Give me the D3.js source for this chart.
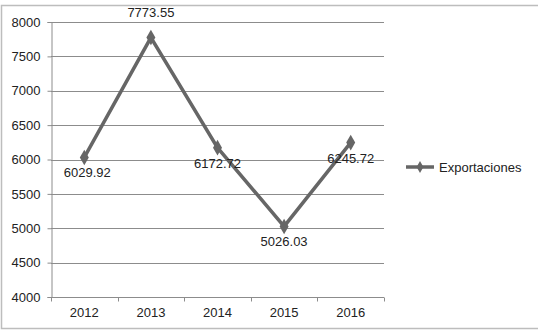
<!DOCTYPE html>
<html>
<head>
<meta charset="utf-8">
<script src="https://cdn.jsdelivr.net/npm/d3@7"></script>
<style>
  body { margin: 0; background: #fff; }
  text { font-family: "Liberation Sans", Arial, sans-serif; fill: #222; }
</style>
</head>
<body>
<svg id="canvas" width="538" height="332"></svg>
<script>
let years = ['2012', '2013', '2014', '2015', '2016']
let exportaciones = [6029.92, 7773.55, 6172.72, 5026.03, 6245.72]
let yTicks = [4000, 4500, 5000, 5500, 6000, 6500, 7000, 7500, 8000]
let seriesName = 'Exportaciones'
// label above (-1) or below (1) the point
let labelSide = [1, -1, 1, 1, 1]

let svg = d3.select('#canvas')

// outer frame
svg.append('rect')
  .attr('x', 1.5).attr('y', 5.5)
  .attr('width', 540).attr('height', 323)
  .attr('fill', 'none').attr('stroke', '#bdbdbd').attr('stroke-width', 1.5)

let plotLeft = 51, plotRight = 384, plotTop = 22, plotBottom = 297

let x = d3.scaleBand().domain(years).range([plotLeft, plotRight])
let y = d3.scaleLinear().domain([4000, 8000]).range([plotBottom, plotTop])

// gridlines
svg.append('g')
  .selectAll('line')
  .data(yTicks)
  .enter()
  .append('line')
  .attr('x1', plotLeft).attr('x2', plotRight)
  .attr('y1', d => Math.round(y(d)) + 0.5).attr('y2', d => Math.round(y(d)) + 0.5)
  .attr('stroke', '#8c8c8c').attr('stroke-width', 1)

// y axis
let yAxis = svg.append('g')
  .attr('transform', 'translate(' + (plotLeft + 0.5) + ',0)')
  .call(d3.axisLeft(y).tickValues(yTicks).tickFormat(d3.format('d')).tickSize(4).tickPadding(7))
yAxis.select('.domain').attr('stroke', '#8c8c8c')
yAxis.selectAll('.tick line').attr('stroke', '#8c8c8c')
yAxis.selectAll('text').style('font-size', '13px').attr('fill', '#222')

// x axis: ticks at band boundaries
let xAxis = svg.append('g')
  .attr('transform', 'translate(0,' + (plotBottom + 0.5) + ')')
  .call(d3.axisBottom(x).tickSize(0).tickPadding(10))
xAxis.select('.domain').attr('stroke', '#8c8c8c').attr('d', 'M' + plotLeft + ',0H' + plotRight)
xAxis.selectAll('text').style('font-size', '13px').attr('fill', '#222')
xAxis.selectAll('.bound')
  .data(d3.range(years.length + 1))
  .enter()
  .append('line')
  .attr('class', 'bound')
  .attr('x1', i => Math.round(plotLeft + i * x.bandwidth()) + 0.5)
  .attr('x2', i => Math.round(plotLeft + i * x.bandwidth()) + 0.5)
  .attr('y1', 0).attr('y2', 4)
  .attr('stroke', '#8c8c8c')

let cx = (d, i) => x(years[i]) + x.bandwidth() / 2

// line
let line = d3.line()
  .x((d, i) => cx(d, i))
  .y(d => y(d))

svg.append('path')
  .datum(exportaciones)
  .attr('d', line)
  .attr('fill', 'none')
  .attr('stroke', '#666')
  .attr('stroke-width', 3.5)
  .attr('stroke-linejoin', 'miter')

let diamond = d3.symbol().type(d3.symbolDiamond).size(70)

svg.append('g')
  .selectAll('path')
  .data(exportaciones)
  .enter()
  .append('path')
  .attr('d', diamond)
  .attr('transform', (d, i) => 'translate(' + cx(d, i) + ',' + y(d) + ')')
  .attr('fill', '#666')

// data labels
svg.append('g')
  .selectAll('text')
  .data(exportaciones)
  .enter()
  .append('text')
  .attr('x', (d, i) => cx(d, i) + (i === 0 ? 3 : 0))
  .attr('y', (d, i) => y(d) + (labelSide[i] > 0 ? 20 : -21))
  .attr('text-anchor', 'middle')
  .style('font-size', '13px')
  .text(d => d.toFixed(2))

// legend
let legend = svg.append('g').attr('transform', 'translate(406,167)')
legend.append('line')
  .attr('x1', 0).attr('x2', 28)
  .attr('stroke', '#666').attr('stroke-width', 3.5)
legend.append('path')
  .attr('d', d3.symbol().type(d3.symbolDiamond).size(40))
  .attr('transform', 'translate(14,0)')
  .attr('fill', '#666')
legend.append('text')
  .attr('x', 33).attr('y', 5)
  .style('font-size', '13px')
  .text(seriesName)
</script>
</body>
</html>
